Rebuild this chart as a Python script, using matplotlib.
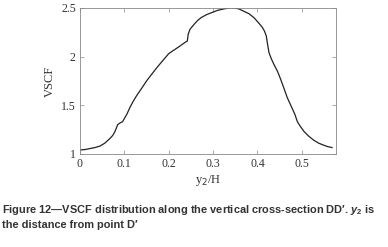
import matplotlib
matplotlib.use('Agg')
import matplotlib.pyplot as plt

# y2/H positions and VSCF values
y2_h = [0.0, 0.012, 0.023, 0.034, 0.045, 0.056, 0.068, 0.074, 0.079, 0.085,
        0.091, 0.096, 0.101, 0.106, 0.113, 0.120, 0.128, 0.140, 0.151, 0.162,
        0.174, 0.187, 0.200, 0.213, 0.226, 0.235, 0.242, 0.244, 0.248, 0.257,
        0.265, 0.273, 0.285, 0.296, 0.310, 0.325, 0.337, 0.347, 0.358, 0.369,
        0.381, 0.392, 0.402, 0.411, 0.416, 0.420, 0.423, 0.426, 0.431, 0.437,
        0.445, 0.452, 0.460, 0.467, 0.475, 0.484, 0.490, 0.497, 0.505, 0.516,
        0.527, 0.538, 0.549, 0.558, 0.568]
vscf = [1.04, 1.045, 1.055, 1.065, 1.08, 1.11, 1.16, 1.19, 1.23, 1.30,
        1.32, 1.33, 1.37, 1.41, 1.48, 1.54, 1.60, 1.68, 1.755, 1.82,
        1.89, 1.96, 2.03, 2.07, 2.11, 2.14, 2.16, 2.23, 2.28, 2.33,
        2.37, 2.40, 2.43, 2.45, 2.475, 2.49, 2.50, 2.50, 2.49, 2.466,
        2.44, 2.40, 2.35, 2.30, 2.26, 2.21, 2.12, 2.04, 1.98, 1.92,
        1.85, 1.77, 1.67, 1.58, 1.50, 1.41, 1.33, 1.28, 1.23, 1.18,
        1.14, 1.11, 1.09, 1.075, 1.065]

xticks = [0, 0.1, 0.2, 0.3, 0.4, 0.5]
xticklabels = ['0', '0.1', '0.2', '0.3', '0.4', '0.5']
yticks = [1, 1.5, 2, 2.5]
yticklabels = ['1', '1.5', '2', '2.5']

caption = ("Figure 12\u2014VSCF distribution along the vertical cross-section DD\u2032. $\\mathit{y}_\\mathbf{2}$ is\n"
           "the distance from point D\u2032")

plt.rcParams['mathtext.fontset'] = 'custom'
plt.rcParams['mathtext.it'] = 'Liberation Sans:italic:bold'
plt.rcParams['mathtext.bf'] = 'Liberation Sans:bold'

fig = plt.figure(figsize=(3.88, 2.47), dpi=100)
ax = fig.add_axes([0.206, 0.377, 0.66, 0.591])

ax.plot(y2_h, vscf, color='#222222', lw=0.9)
ax.set_xlim(0, 0.577)
ax.set_ylim(1, 2.5)

serif = {'family': 'Liberation Serif', 'size': 8.5, 'color': '#333333'}
ax.set_xticks(xticks)
ax.set_xticklabels(xticklabels, fontdict=serif)
ax.set_yticks(yticks)
ax.set_yticklabels(yticklabels, fontdict=serif)
ax.tick_params(direction='in', top=True, right=True, length=3, width=0.5,
               color='#888888', pad=3)
for s in ax.spines.values():
    s.set_color('#888888')
    s.set_linewidth(0.6)

ax.set_xlabel('y$_2$/H', fontdict={'family': 'Liberation Serif', 'size': 9, 'color': '#333333'},
              labelpad=2)
ax.set_ylabel('VSCF', fontdict={'family': 'Liberation Serif', 'size': 9, 'color': '#333333'},
              labelpad=4)

fig.text(0.005, 0.125, caption, family='Liberation Sans', weight='bold',
         size=7.9, color='#333333', va='center', ha='left', linespacing=1.35)

fig.savefig('out.png', dpi=100)
plt.close(fig)
